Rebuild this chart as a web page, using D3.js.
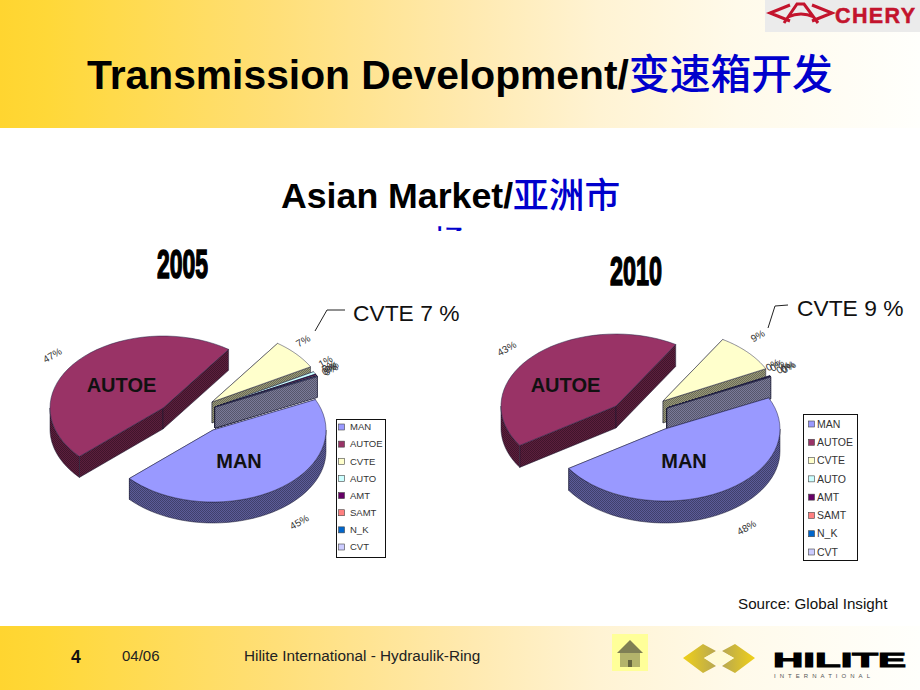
<!DOCTYPE html>
<html><head><meta charset="utf-8">
<script src="https://cdn.jsdelivr.net/npm/d3@7/dist/d3.min.js"></script>
<style>html,body{margin:0;padding:0;background:#fff}svg{display:block}text{font-family:"Liberation Sans",Arial,sans-serif}</style>
</head><body><div id="c"></div>
<script>
// ---- data ----
const categories = ["MAN","AUTOE","CVTE","AUTO","AMT","SAMT","N_K","CVT"];
const values2005 = [45.2,46.6,7.0,0.6,0.2,0.2,0.1,0.1];
const values2010 = [47.9,42.9,8.9,0.1,0.1,0.05,0.03,0.02];
const colors = ["#9999ff","#993366","#ffffcc","#ccffff","#660066","#ff8080","#0066cc","#ccccff"];
const years = ["2005","2010"];
const calloutLabels = ["CVTE 7 %","CVTE 9 %"];
const sliceTitles = ["MAN","AUTOE"];

// ---- layout (not data) ----
const layouts = [
 {year:{x:157,w:51,y:278}, rx:113, ry:72, depth:21, start:-25,
  apex:[[213,430],[163,408],[212,402],[215,407]],
  nudge:[[8,17],[-5,7],[-14,-1],[-14,-3],[-12,0],[-13,2],[-11,-1],[-12,1]],
  legend:{x:336,y:419,w:49,h:138,top:427,bot:547,sw:341,tx:350,fs:9.5},
  callout:{pts:[[315,331],[327,310],[345,310]],x:353,y:321},
  titles:[{x:239,y:468},{x:121.5,y:392}]},
 {year:{x:610,w:52,y:285}, rx:115, ry:72, depth:22, start:-25.6,
  apex:[[665,429],[616,406],[663,401],[667,408]],
  nudge:[[11,20],[-6,5],[-11,-4],[-23,-3],[-19,-3],[-13,-1],[-9,-2],[-8,-2]],
  legend:{x:803,y:414,w:54,h:146,top:424,bot:552,sw:811,tx:817,fs:10.5},
  callout:{pts:[[768,328],[775,306],[788,305]],x:797,y:316},
  titles:[{x:684,y:468},{x:565.5,y:392}]}
];
const W=920,H=690, RAD=Math.PI/180;

const svg=d3.select("#c").append("svg").attr("width",W).attr("height",H).attr("viewBox",[0,0,W,H]);
const defs=svg.append("defs");
const band=defs.append("linearGradient").attr("id","band");
[[0,"#ffd530"],[0.05,"#ffd838"],[0.3,"#ffdf78"],[0.5,"#ffe9ad"],[0.65,"#fff3d3"],[0.8,"#fffaea"],[1,"#fffffc"]].forEach(s=>band.append("stop").attr("offset",s[0]).attr("stop-color",s[1]));
defs.append("clipPath").attr("id","clipSub").append("rect").attr("x",0).attr("y",170).attr("width",W).attr("height",61);
const grL=defs.append("linearGradient").attr("id","chevL");
[[0,"#f0d018"],[1,"#b8a850"]].forEach(s=>grL.append("stop").attr("offset",s[0]).attr("stop-color",s[1]));
const grR=defs.append("linearGradient").attr("id","chevR");
[[0,"#b8a850"],[1,"#f0d018"]].forEach(s=>grR.append("stop").attr("offset",s[0]).attr("stop-color",s[1]));

// dithered wall patterns
colors.forEach((c,i)=>{
  const rgb=d3.rgb(c), shade=k=>d3.rgb(rgb.r*k,rgb.g*k,rgb.b*k).formatHex();
  const p=defs.append("pattern").attr("id","wall"+i).attr("width",2).attr("height",2).attr("patternUnits","userSpaceOnUse");
  p.append("rect").attr("width",2).attr("height",2).attr("fill",shade(0.6));
  p.append("rect").attr("width",1).attr("height",1).attr("fill",shade(0.42));
  p.append("rect").attr("x",1).attr("y",1).attr("width",1).attr("height",1).attr("fill",shade(0.42));
});

// background bands
svg.append("rect").attr("width",W).attr("height",128).attr("fill","url(#band)");
svg.append("rect").attr("y",626).attr("width",W).attr("height",64).attr("fill","url(#band)");

// header text
const title=svg.append("text").attr("x",87).attr("y",89).attr("font-size",40.8).attr("font-weight",700);
title.append("tspan").text("Transmission Development/");
title.append("tspan").attr("fill","#0000cc").attr("font-family","'Noto Sans CJK SC'").attr("font-weight",500).text("变速箱开发");

const sub=svg.append("text").attr("x",281).attr("y",208).attr("font-size",35.7).attr("font-weight",700);
sub.append("tspan").text("Asian Market/");
sub.append("tspan").attr("fill","#0000cc").attr("font-family","'Noto Sans CJK SC'").attr("font-weight",500).text("亚洲市");
svg.append("text").attr("x",450).attr("y",255).attr("text-anchor","middle").attr("font-size",35.7).attr("fill","#0000cc")
   .attr("font-family","'Noto Sans CJK SC'").attr("font-weight",500).attr("clip-path","url(#clipSub)").text("场");

// pies
const series=[values2005,values2010];
const lineGen=d3.line();
series.forEach((vals,ci)=>{
  const L=layouts[ci];
  const g=svg.append("g");
  const fmt=d3.format(".0%"), total=d3.sum(vals);
  const pie=d3.pie().sort(null).startAngle((L.start+90)*RAD).endAngle((L.start+90+360)*RAD);
  const arcs=pie(vals).map((d,i)=>({i,a0:d.startAngle-Math.PI/2,a1:d.endAngle-Math.PI/2,v:d.value,
     apex:L.apex[Math.min(i,3)]}));
  const rim=(d,a,dz=0)=>[d.apex[0]+L.rx*Math.cos(a),d.apex[1]+L.ry*Math.sin(a)+dz];
  const sample=(a0,a1)=>d3.range(0,41).map(k=>a0+(a1-a0)*k/40);
  const order=arcs.slice(1).concat(arcs.slice(0,1));
  order.forEach(d=>{
    const f=`url(#wall${d.i})`, sg=g.append("g");
    const wallStyle=s=>s.attr("fill",f).attr("stroke","#1a1a33").attr("stroke-width",0.5).attr("stroke-linejoin","round");
    [d.a0,d.a1].forEach(a=>{
      const ap=d.apex;
      sg.append("path").attr("d",lineGen([ap,rim(d,a),rim(d,a,L.depth),[ap[0],ap[1]+L.depth]])+"Z").call(wallStyle);
    });
    [[d.a0,d.a1],[d.a0+2*Math.PI,d.a1+2*Math.PI],[d.a0-2*Math.PI,d.a1-2*Math.PI]].forEach(([s,e])=>{
      const lo=Math.max(s,0), hi=Math.min(e,Math.PI);
      if(hi>lo){
        const top=sample(lo,hi).map(a=>rim(d,a)), bot=sample(hi,lo).map(a=>rim(d,a,L.depth));
        sg.append("path").attr("d",lineGen(top.concat(bot))+"Z").call(wallStyle);
      }
    });
    const topPts=[d.apex].concat(sample(d.a0,d.a1).map(a=>rim(d,a)));
    sg.append("path").attr("d",lineGen(topPts)+"Z").attr("fill",colors[d.i]).attr("stroke","#222244").attr("stroke-width",0.5).attr("stroke-linejoin","round");
  });

  arcs.forEach(d=>{
    const m=(d.a0+d.a1)/2, n=L.nudge[d.i];
    const x=d.apex[0]+Math.cos(m)*L.rx*1.25+n[0], y=d.apex[1]+Math.sin(m)*L.ry*1.25+n[1];
    g.append("text").attr("transform",`translate(${x},${y}) rotate(-30)`).attr("text-anchor","middle").attr("dy","0.35em")
     .attr("font-size",10).attr("fill","#333").text(fmt(d.v/total));
  });

  sliceTitles.forEach((t,i)=>g.append("text").attr("x",L.titles[i].x).attr("y",L.titles[i].y).attr("text-anchor","middle")
     .attr("font-size",20).attr("font-weight",700).attr("fill","#111").text(t));

  g.append("text").attr("x",L.year.x).attr("y",L.year.y).attr("font-size",41).attr("font-weight",700)
   .attr("stroke","#000").attr("stroke-width",1.6).attr("textLength",L.year.w).attr("lengthAdjust","spacingAndGlyphs").text(years[ci]);

  g.append("path").attr("d",lineGen(L.callout.pts)).attr("fill","none").attr("stroke","#222").attr("stroke-width",1);
  g.append("text").attr("x",L.callout.x).attr("y",L.callout.y).attr("font-size",22.8).attr("fill","#111").text(calloutLabels[ci]);

  const lg=L.legend, ly=d3.scalePoint().domain(categories).range([lg.top,lg.bot]);
  g.append("rect").attr("x",lg.x+.5).attr("y",lg.y+.5).attr("width",lg.w).attr("height",lg.h).attr("fill","#fff").attr("stroke","#111");
  categories.forEach((c,i)=>{
    g.append("rect").attr("x",lg.sw-2.5).attr("y",ly(c)-3).attr("width",6).attr("height",6).attr("fill",colors[i]).attr("stroke","#444").attr("stroke-width",.6);
    g.append("text").attr("x",lg.tx).attr("y",ly(c)).attr("dy","0.35em").attr("font-size",lg.fs).attr("fill","#333").text(c);
  });
});

// source + footer
svg.append("text").attr("x",738).attr("y",609).attr("font-size",15.2).attr("fill","#111").text("Source: Global Insight");
svg.append("text").attr("x",71).attr("y",663).attr("font-size",17.5).attr("font-weight",700).attr("fill","#111").text("4");
svg.append("text").attr("x",122).attr("y",661).attr("font-size",15).attr("fill","#222").text("04/06");
svg.append("text").attr("x",244).attr("y",661).attr("font-size",15.3).attr("fill","#222").text("Hilite International - Hydraulik-Ring");

// Chery logo
const ch=svg.append("g");
ch.append("rect").attr("x",765).attr("width",155).attr("height",32).attr("fill","#ebebeb");
ch.append("path").attr("d","M790 5 L770 13 L790 21 M812 5 L832 13 L812 21 M784 23 L797 4 L804 4 L818 23 M788 17 Q801 11 814 17")
  .attr("fill","none").attr("stroke","#c3142d").attr("stroke-width",3);
ch.append("text").attr("x",835).attr("y",22.5).attr("font-size",21.5).attr("font-weight",700).attr("fill","#c3142d").attr("stroke","#c3142d").attr("stroke-width",.5).attr("textLength",80).attr("lengthAdjust","spacing").text("CHERY");

// home button
const hm=svg.append("g");
hm.append("rect").attr("x",612).attr("y",634).attr("width",36).attr("height",37).attr("fill","#ffff99");
hm.append("path").attr("d","M617 653 L630 640 L643 653 Z").attr("fill","#7f7f55");
hm.append("rect").attr("x",620).attr("y",653).attr("width",20).attr("height",14).attr("fill","#b3b36b");
hm.append("rect").attr("x",628).attr("y",660).attr("width",4).attr("height",7).attr("fill","#66663f");

// Hilite logo
const hl=svg.append("g");
hl.append("path").attr("d","M683 658 L703 644 L716 651 L704 658 L716 666 L703 673 Z").attr("fill","url(#chevL)");
hl.append("path").attr("d","M755 658 L735 644 L722 651 L734 658 L722 666 L735 673 Z").attr("fill","url(#chevR)");
hl.append("path").attr("d","M704 658 L719 650 L734 658 L719 666 Z").attr("fill","#fffbd6");
hl.append("text").attr("x",773).attr("y",667).attr("font-size",20).attr("font-weight",700).attr("stroke","#000").attr("stroke-width",1).attr("textLength",133).attr("lengthAdjust","spacingAndGlyphs").text("HILITE");
hl.append("text").attr("x",774).attr("y",677.5).attr("font-size",6).attr("fill","#555").attr("textLength",96).attr("lengthAdjust","spacing").text("INTERNATIONAL");
</script></body></html>
